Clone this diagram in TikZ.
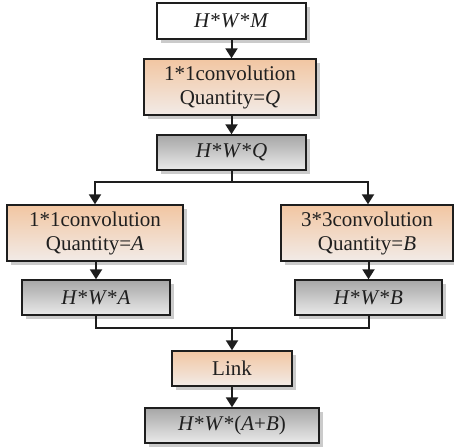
\documentclass[tikz,border=0pt]{standalone}
\usepackage{fontspec}
\setmainfont{Liberation Serif}
\usetikzlibrary{arrows.meta,shadows}

\definecolor{orangetop}{HTML}{F2C6A2}
\definecolor{orangebot}{HTML}{F2EBE7}
\definecolor{graytop}{HTML}{A6A6A6}
\definecolor{graybot}{HTML}{EAEAEA}
\definecolor{edgecol}{HTML}{1E1E1E}
\definecolor{shadowcol}{HTML}{CBCBCB}

\tikzset{
  box/.style={draw=edgecol, line width=1.4pt, inner sep=0pt, align=center,
    font=\fontsize{21}{24}\selectfont, text=black!88,
    drop shadow={shadow xshift=3.5pt, shadow yshift=-3.5pt, fill=shadowcol, opacity=1}},
  plainbox/.style={box, fill=white},
  convbox/.style={box, top color=orangetop, bottom color=orangebot},
  mapbox/.style={box, top color=graytop, bottom color=graybot},
  flow/.style={draw=edgecol, line width=2pt},
  arrow/.style={flow, -{Triangle[width=12pt,length=10pt]}}
}

\begin{document}
\begin{tikzpicture}[x=1pt,y=-1pt]
  \useasboundingbox (0,0) rectangle (454,447);

  % main column
  \node[plainbox, minimum width=149pt, minimum height=36pt] (in) at (231.5,21) {\textit{H}*\textit{W}*\textit{M}};
  \node[convbox, minimum width=172pt, minimum height=56pt] (convq) at (230,87) {1*1convolution\\Quantity=\textit{Q}};
  \node[mapbox, minimum width=149pt, minimum height=35pt] (mapq) at (231.5,152.5) {\textit{H}*\textit{W}*\textit{Q}};

  % left branch
  \node[convbox, minimum width=176pt, minimum height=56pt] (conva) at (95,233) {1*1convolution\\Quantity=\textit{A}};
  \node[mapbox, minimum width=148pt, minimum height=35pt] (mapa) at (96,297.5) {\textit{H}*\textit{W}*\textit{A}};

  % right branch
  \node[convbox, minimum width=172pt, minimum height=56pt] (convb) at (367,233) {3*3convolution\\Quantity=\textit{B}};
  \node[mapbox, minimum width=147pt, minimum height=35pt] (mapb) at (368.5,297.5) {\textit{H}*\textit{W}*\textit{B}};

  % merge
  \node[convbox, minimum width=120pt, minimum height=35pt] (link) at (232,368.5) {Link};
  \node[mapbox, minimum width=174pt, minimum height=35pt] (out) at (232,425.5) {\textit{H}*\textit{W}*(\textit{A}+\textit{B})};

  \coordinate (split) at (231.5,182);
  \coordinate (join) at (232,328);

  % connectors
  \draw[arrow] (in.south) -- (in.south |- convq.north);
  \draw[arrow] (mapq.south |- convq.south) -- (mapq.north);
  \draw[flow] (mapq.south) -- (split);
  \draw[arrow] (split) -| (conva.north);
  \draw[arrow] (split) -| ([xshift=1pt]convb.north);
  \draw[arrow] (conva.south -| mapa.north) -- (mapa.north);
  \draw[arrow] (convb.south -| mapb.north) -- (mapb.north);
  \draw[flow] (mapa.south) |- (join) -| (mapb.south);
  \draw[arrow] (join) -- (link.north);
  \draw[arrow] (link.south) -- (out.north);
\end{tikzpicture}
\end{document}
